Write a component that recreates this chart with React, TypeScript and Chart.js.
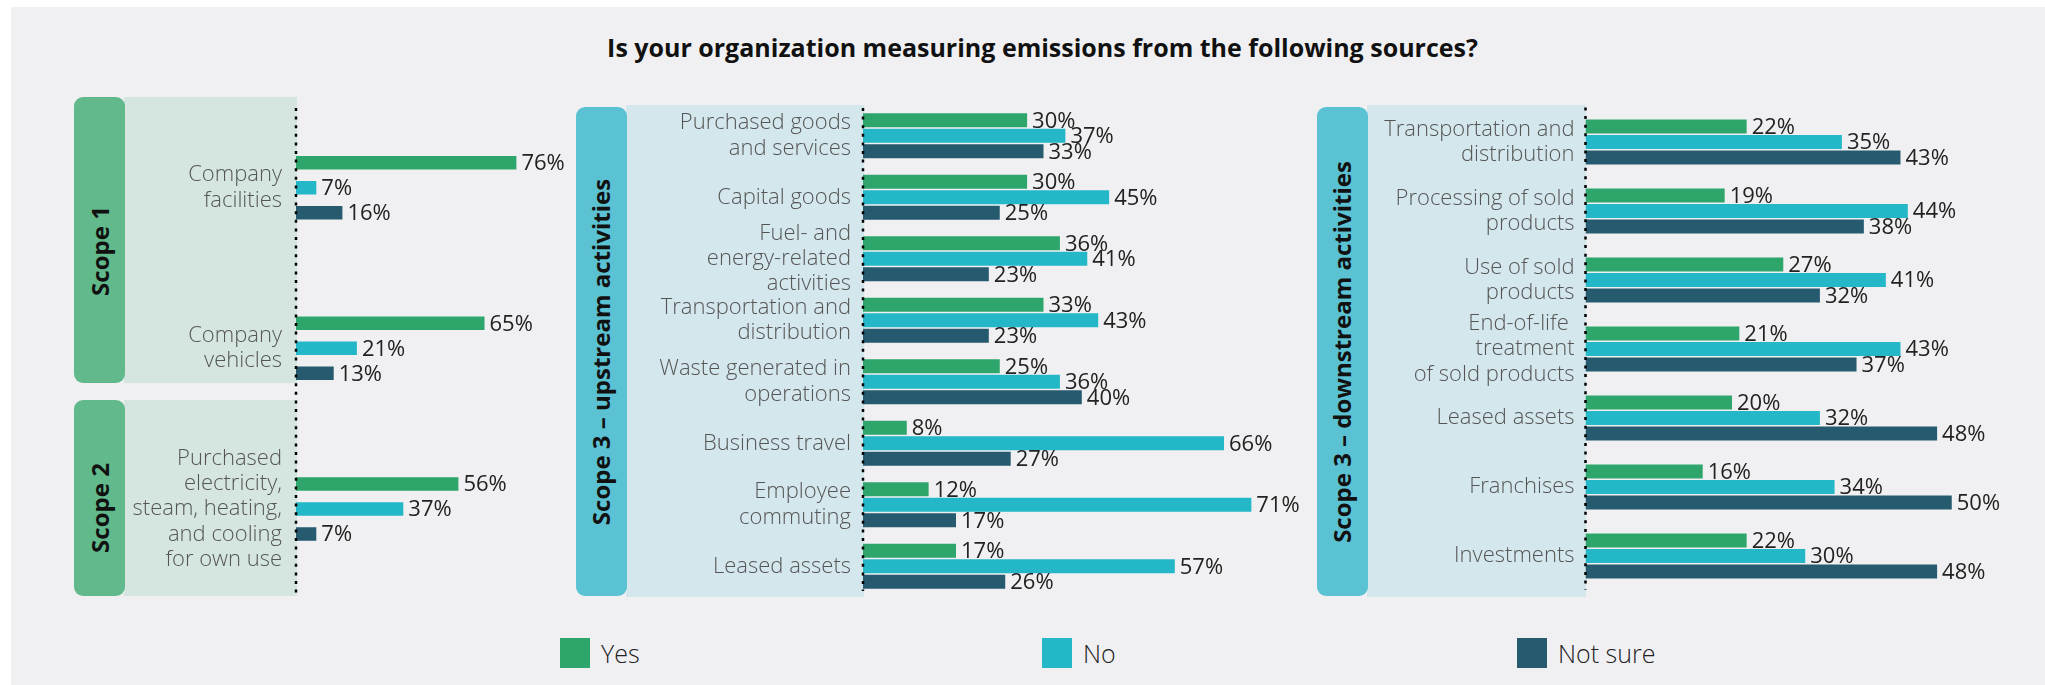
import React, { useEffect, useRef } from "react";
import { Chart, registerables } from "chart.js";

Chart.register(...registerables);

// ---------- DATA ----------
const seriesNames = ["Yes", "No", "Not sure"];
const seriesColors = ["#2ea56b", "#24b7c7", "#265a6f"];

const scope12Categories = [
  ["Company", "facilities"],
  ["Company", "vehicles"],
  ["Purchased", "electricity,", "steam, heating,", "and cooling", "for own use"],
];
const scope12Yes = [76, 65, 56];
const scope12No = [7, 21, 37];
const scope12NotSure = [16, 13, 7];

const upstreamCategories = [
  ["Purchased goods", "and services"],
  ["Capital goods"],
  ["Fuel- and", "energy-related", "activities"],
  ["Transportation and", "distribution"],
  ["Waste generated in", "operations"],
  ["Business travel"],
  ["Employee", "commuting"],
  ["Leased assets"],
];
const upstreamYes = [30, 30, 36, 33, 25, 8, 12, 17];
const upstreamNo = [37, 45, 41, 43, 36, 66, 71, 57];
const upstreamNotSure = [33, 25, 23, 23, 40, 27, 17, 26];

const downstreamCategories = [
  ["Transportation and", "distribution"],
  ["Processing of sold", "products"],
  ["Use of sold", "products"],
  ["End-of-life ", "treatment", "of sold products"],
  ["Leased assets"],
  ["Franchises"],
  ["Investments"],
];
const downstreamYes = [22, 19, 27, 21, 20, 16, 22];
const downstreamNo = [35, 44, 41, 43, 32, 34, 30];
const downstreamNotSure = [43, 38, 32, 37, 48, 50, 48];

const titleText = "Is your organization measuring emissions from the following sources?";
const scopeLabels = ["Scope 1", "Scope 2", "Scope 3 \u2013 upstream activities", "Scope 3 \u2013 downstream activities"];

// ---------- STYLE ----------
const FONT = '"Open Sans", "Noto Sans", sans-serif';

const valueLabelPlugin = {
  id: "valueLabels",
  afterDatasetsDraw(chart: any) {
    const ctx = chart.ctx;
    ctx.save();
    ctx.font = `400 22px ${FONT}`;
    ctx.fillStyle = "#222";
    ctx.textBaseline = "middle";
    ctx.textAlign = "left";
    chart.data.datasets.forEach((ds: any, i: number) => {
      const meta = chart.getDatasetMeta(i);
      meta.data.forEach((bar: any, j: number) => {
        ctx.fillText(ds.data[j] + "%", bar.x + 5, bar.y + 1);
      });
    });
    ctx.restore();
  },
};

const dottedAxisPlugin = {
  id: "dottedAxis",
  afterDatasetsDraw(chart: any, _args: any, opts: any) {
    const { ctx, chartArea } = chart;
    ctx.save();
    ctx.strokeStyle = "#000";
    ctx.lineWidth = 2.5;
    ctx.setLineDash([3, 5.6]);
    ctx.beginPath();
    ctx.moveTo(chartArea.left, chartArea.top + ((opts && opts.startOffset) || 0));
    ctx.lineTo(chartArea.left, chartArea.bottom + ((opts && opts.extend) || 0));
    ctx.stroke();
    ctx.restore();
  },
};

type PanelProps = {
  left: number;
  top: number;
  width: number;
  height: number;
  categories: string[][];
  yes: number[];
  no: number[];
  notSure: number[];
  xMax: number;
  axisWidth: number;
  padding: { top: number; bottom: number; left: number; right: number };
  catPct: number;
  barPct: number;
  tickPad: number;
  axisExtend: number;
  axisStart: number;
};

function BarPanel(p: PanelProps) {
  const ref = useRef<HTMLCanvasElement>(null);
  useEffect(() => {
    const chart = new Chart(ref.current as HTMLCanvasElement, {
      type: "bar",
      data: {
        labels: p.categories as any,
        datasets: [
          { label: seriesNames[0], data: p.yes, backgroundColor: seriesColors[0] },
          { label: seriesNames[1], data: p.no, backgroundColor: seriesColors[1] },
          { label: seriesNames[2], data: p.notSure, backgroundColor: seriesColors[2] },
        ],
      },
      options: {
        indexAxis: "y",
        responsive: false,
        animation: false,
        layout: { padding: p.padding },
        datasets: { bar: { categoryPercentage: p.catPct, barPercentage: p.barPct } },
        plugins: {
          legend: { display: false },
          tooltip: { enabled: false },
          title: { display: false },
          dottedAxis: { extend: p.axisExtend, startOffset: p.axisStart },
        },
        scales: {
          x: { display: false, min: 0, max: p.xMax },
          y: {
            afterFit: (s: any) => {
              s.width = p.axisWidth;
              s.paddingTop = 0;
              s.paddingBottom = 0;
            },
            grid: { display: false, drawTicks: false },
            border: { display: false },
            ticks: {
              color: "#555",
              padding: p.tickPad,
              autoSkip: false,
              font: { family: FONT, size: 22, weight: "300" as any, lineHeight: 1.15 },
            },
          },
        },
      } as any,
      plugins: [dottedAxisPlugin, valueLabelPlugin],
    });
    return () => chart.destroy();
  }, []);
  return (
    <canvas
      ref={ref}
      width={p.width}
      height={p.height}
      style={{ position: "absolute", left: p.left, top: p.top, width: p.width, height: p.height }}
    />
  );
}

function Box(props: { left: number; top: number; width: number; height: number; color: string; radius?: number }) {
  return (
    <div
      style={{
        position: "absolute",
        left: props.left,
        top: props.top,
        width: props.width,
        height: props.height,
        background: props.color,
        borderRadius: props.radius || 0,
      }}
    />
  );
}

function VLabel(props: { cx: number; cy: number; text: string }) {
  return (
    <div
      style={{
        position: "absolute",
        left: props.cx,
        top: props.cy,
        transform: "translate(-50%, -50%) rotate(-90deg)",
        whiteSpace: "nowrap",
        fontFamily: FONT,
        fontWeight: 700,
        fontSize: 24,
        lineHeight: "28px",
        color: "#111",
      }}
    >
      {props.text}
    </div>
  );
}

function LegendItem(props: { left: number; color: string; text: string }) {
  return (
    <div
      style={{
        position: "absolute",
        left: props.left,
        top: 638,
        height: 30,
        display: "flex",
        alignItems: "center",
        whiteSpace: "nowrap",
      }}
    >
      <div style={{ width: 30, height: 30, background: props.color }} />
      <span style={{ marginLeft: 11, fontFamily: FONT, fontSize: 25, fontWeight: 300, color: "#222" }}>{props.text}</span>
    </div>
  );
}

export default function App() {
  const greenDark = "#62b98c";
  const greenLight = "#d5e6e0";
  const tealDark = "#5bc2d3";
  const tealLight = "#d4e7ec";
  return (
    <div style={{ position: "absolute", left: 0, top: 0, width: 2045, height: 685, background: "#ffffff", overflow: "hidden" }}>
      <div style={{ position: "absolute", left: 11, top: 7, width: 2034, height: 678, background: "#f0f0f2" }} />
      <div
        style={{
          position: "absolute",
          left: 20,
          top: 32,
          width: 2045,
          textAlign: "center",
          fontFamily: FONT,
          fontWeight: 700,
          fontSize: 25,
          lineHeight: "30px",
          color: "#111",
          whiteSpace: "nowrap",
        }}
      >
        {titleText}
      </div>

      {/* Scope 1 & 2 panel backgrounds */}
      <Box left={124} top={96.5} width={173} height={286} color={greenLight} />
      <Box left={74} top={97} width={51} height={285.5} color={greenDark} radius={9} />
      <Box left={124} top={400} width={173} height={196} color={greenLight} />
      <Box left={74} top={400} width={51} height={196} color={greenDark} radius={9} />
      {/* Scope 3 upstream */}
      <Box left={626} top={105} width={238} height={492} color={tealLight} />
      <Box left={576} top={107} width={51} height={489} color={tealDark} radius={9} />
      {/* Scope 3 downstream */}
      <Box left={1367} top={105} width={219} height={492} color={tealLight} />
      <Box left={1317} top={107} width={51} height={489} color={tealDark} radius={9} />

      <VLabel cx={99.5} cy={251} text={scopeLabels[0]} />
      <VLabel cx={99.5} cy={508} text={scopeLabels[1]} />
      <VLabel cx={601} cy={352} text={scopeLabels[2]} />
      <VLabel cx={1342} cy={352} text={scopeLabels[3]} />

      <BarPanel
        left={130}
        top={90}
        width={500}
        height={530}
        categories={scope12Categories}
        yes={scope12Yes}
        no={scope12No}
        notSure={scope12NotSure}
        xMax={100}
        axisWidth={166}
        padding={{ top: 17.4, bottom: 30.7, left: 0, right: 44 }}
        catPct={0.467}
        barPct={0.54}
        tickPad={14}
        axisExtend={6.7}
        axisStart={0.6}
      />
      <BarPanel
        left={640}
        top={85}
        width={780}
        height={530}
        categories={upstreamCategories}
        yes={upstreamYes}
        no={upstreamNo}
        notSure={upstreamNotSure}
        xMax={100}
        axisWidth={223}
        padding={{ top: 20, bottom: 18, left: 0, right: 10 }}
        catPct={0.756}
        barPct={0.903}
        tickPad={12}
        axisExtend={-6}
        axisStart={3}
      />
      <BarPanel
        left={1380}
        top={85}
        width={660}
        height={530}
        categories={downstreamCategories}
        yes={downstreamYes}
        no={downstreamNo}
        notSure={downstreamNotSure}
        xMax={60}
        axisWidth={205.5}
        padding={{ top: 22.5, bottom: 24.5, left: 0, right: 15 }}
        catPct={0.674}
        barPct={0.903}
        tickPad={11}
        axisExtend={-1}
        axisStart={0}
      />

      <LegendItem left={560} color={seriesColors[0]} text={seriesNames[0]} />
      <LegendItem left={1042} color={seriesColors[1]} text={seriesNames[1]} />
      <LegendItem left={1517} color={seriesColors[2]} text={seriesNames[2]} />
    </div>
  );
}
